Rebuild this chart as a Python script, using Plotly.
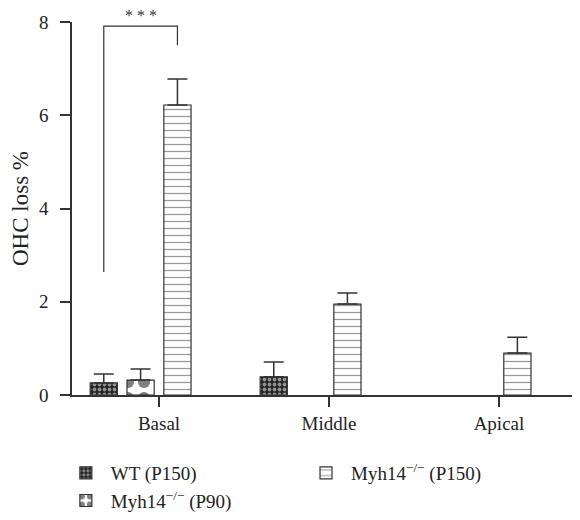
import plotly.graph_objects as go

categories = ["Basal", "Middle", "Apical"]
series_names = ["WT (P150)", "Myh14<sup>\u2212/\u2212</sup> (P90)", "Myh14<sup>\u2212/\u2212</sup> (P150)"]
wt_p150 = [0.26, 0.39, None]
wt_p150_err = [0.19, 0.32, None]
ko_p90 = [0.32, None, None]
ko_p90_err = [0.24, None, None]
ko_p150 = [6.22, 1.95, 0.90]
ko_p150_err = [0.56, 0.24, 0.34]
yticks = [0, 2, 4, 6, 8]
sig_text = "* * *"
sig_low, sig_top, sig_right_low = 2.64, 7.91, 7.5

FONT = "Liberation Serif"
LINE = "#333333"
x_idx = list(range(len(categories)))
slot = 0.2167
bw = 0.16

def offset(i):
    return (i - 1.5) * slot - bw / 2

patterns = [
    dict(shape=".", bgcolor="#222222", fgcolor="white", size=5, solidity=0.45),
    dict(shape=".", bgcolor="white", fgcolor="black", size=16, solidity=0.45),
    dict(shape="-", bgcolor="white", fgcolor="#333333", size=7, solidity=0.18),
]
values = [wt_p150, ko_p90, ko_p150]
errs = [wt_p150_err, ko_p90_err, ko_p150_err]
legends = ["legend", "legend", "legend2"]

fig = go.Figure()
for i in range(3):
    fig.add_trace(go.Bar(
        x=x_idx, y=values[i], name=series_names[i],
        width=bw, offset=offset(i),
        marker=dict(color="white", line=dict(color=LINE, width=1.2), pattern=patterns[i]),
        error_y=dict(type="data", array=errs[i], arrayminus=[0] * 3, symmetric=False,
                     color=LINE, thickness=1.5, width=10),
        legend=legends[i],
    ))

x_left = 0 + offset(0) + bw / 2
x_right = 0 + offset(2) + bw / 2
fig.add_shape(type="path",
              path=f"M {x_left},{sig_low} L {x_left},{sig_top} L {x_right},{sig_top} L {x_right},{sig_right_low}",
              line=dict(color=LINE, width=1.2), xref="x", yref="y")
fig.add_annotation(x=(x_left + x_right) / 2, y=sig_top, text=sig_text, showarrow=False,
                   yanchor="bottom", yshift=0, font=dict(family=FONT, size=16, color=LINE))

leg_common = dict(orientation="v", xanchor="left", yanchor="top", tracegroupgap=0,
                  itemwidth=40, font=dict(family=FONT, size=19, color="#222222"),
                  bgcolor="rgba(0,0,0,0)")
fig.update_layout(
    width=580, height=520,
    margin=dict(l=64, r=10, t=14, b=133, autoexpand=False),
    plot_bgcolor="white", paper_bgcolor="white",
    barmode="overlay",
    font=dict(family=FONT, size=19, color="#222222"),
    showlegend=True,
    legend=dict(x=-0.022, y=-0.158, **leg_common),
    legend2=dict(x=0.4526, y=-0.158, **leg_common),
    xaxis=dict(range=[-0.512, 2.465], tickmode="array", tickvals=x_idx, ticktext=categories,
               showline=True, linecolor=LINE, linewidth=1.5, ticks="outside", ticklen=10,
               tickcolor=LINE, tickwidth=1.5, showgrid=False, zeroline=False, automargin=False),
    yaxis=dict(range=[0, 8], tickvals=yticks, showline=True, linecolor=LINE, linewidth=1.5,
               ticks="outside", ticklen=10, tickcolor=LINE, tickwidth=1.5, showgrid=False,
               zeroline=False, ticklabelstandoff=8, automargin=False,
               title=dict(text="OHC loss %", standoff=12)),
)

fig.write_html("out.html")
